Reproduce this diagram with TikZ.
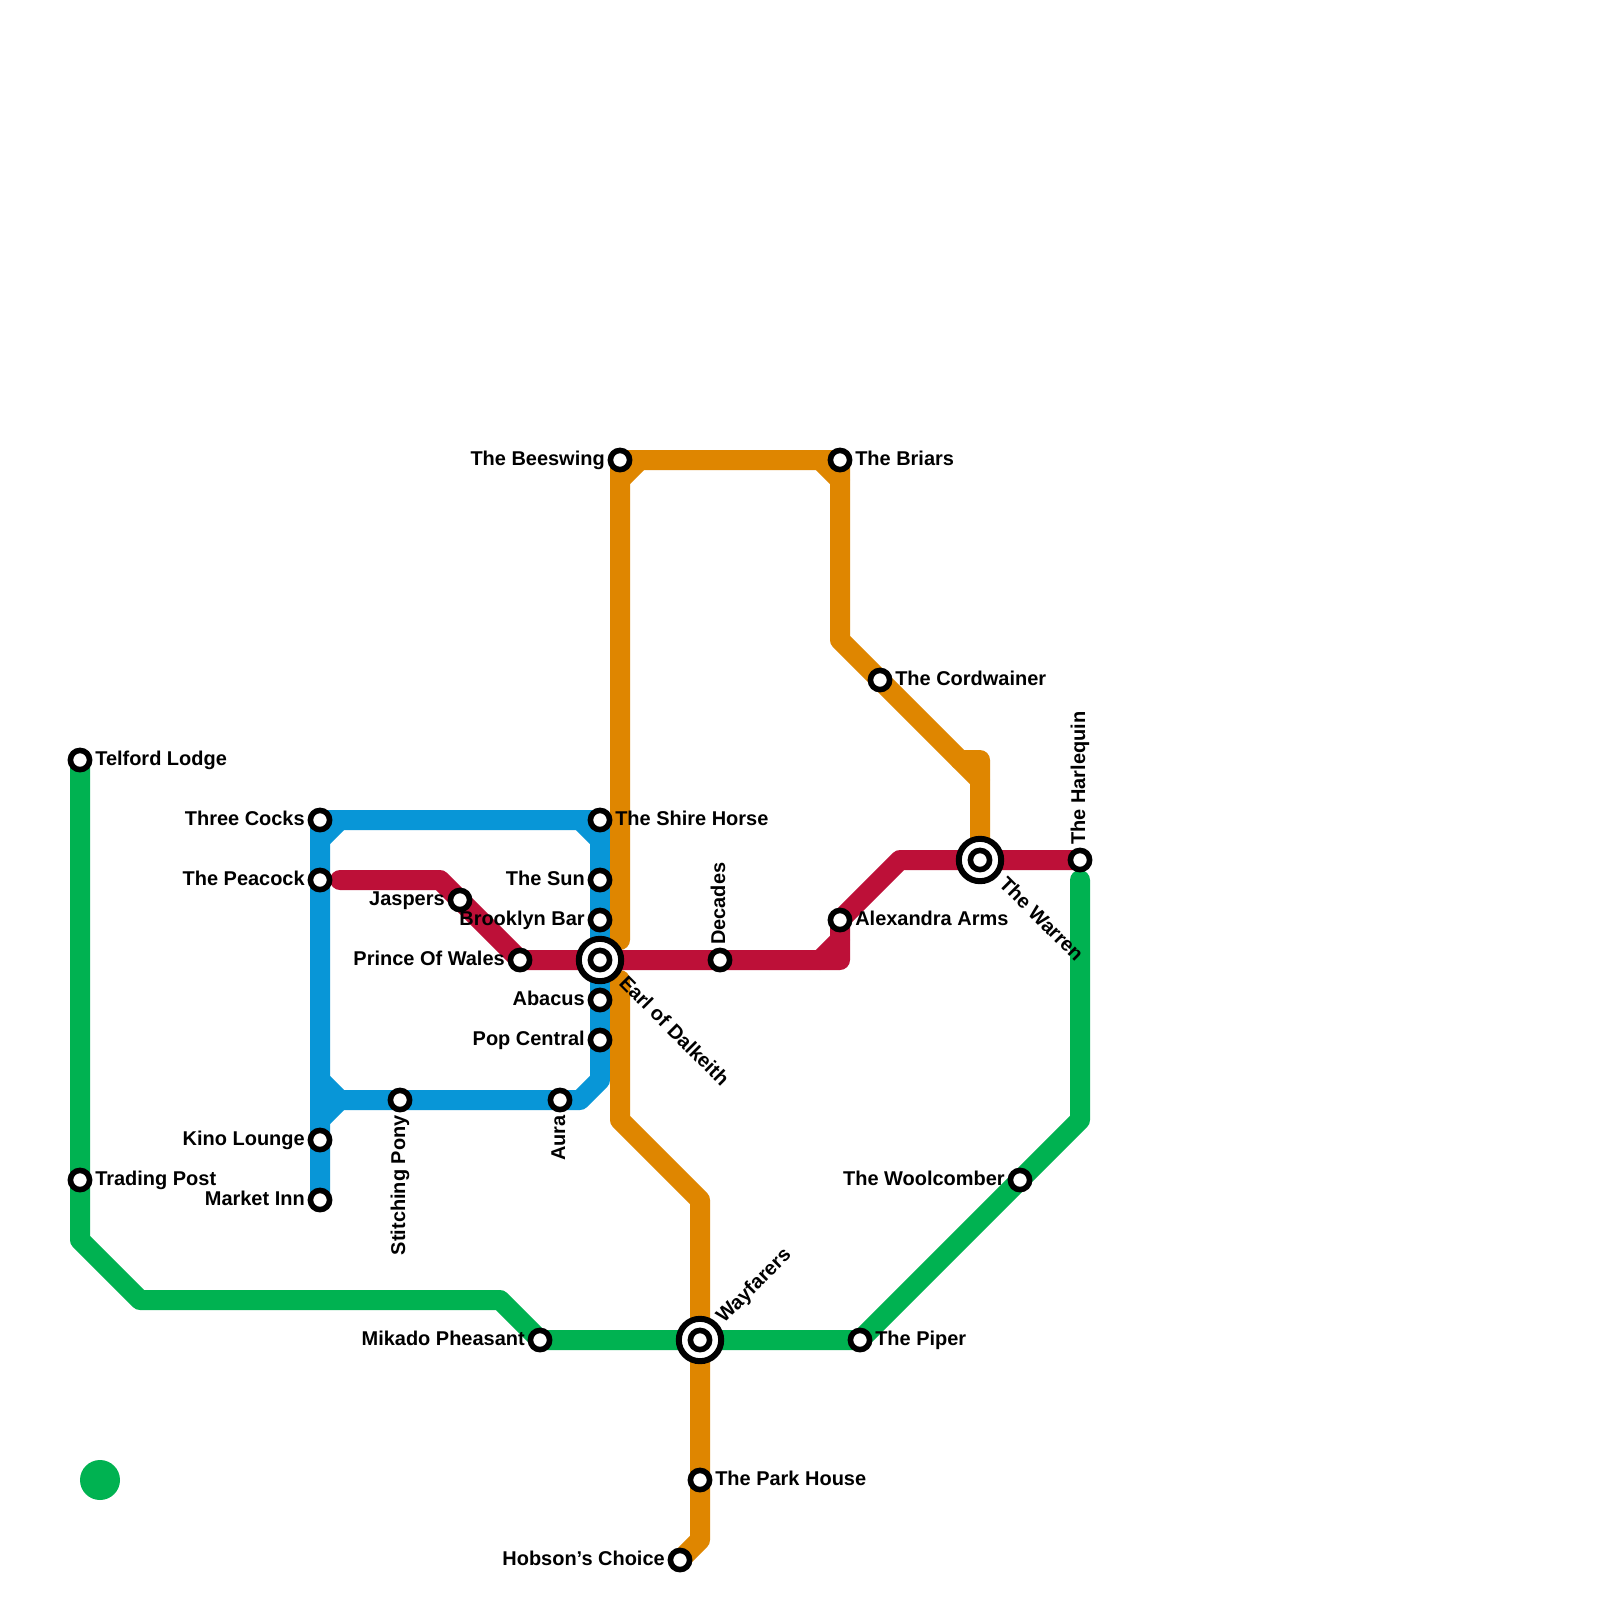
\documentclass[tikz,border=0pt]{standalone}
\usepackage{fontspec}
\setmainfont{Liberation Sans}
\usetikzlibrary{backgrounds}
\definecolor{lineblue}{HTML}{0896D7}
\definecolor{linegreen}{HTML}{00B251}
\definecolor{linered}{HTML}{BD1038}
\definecolor{lineorange}{HTML}{DF8600}
\tikzset{
  stn/.style={circle, draw=black, fill=white, line width=.14cm, minimum size=.48cm, inner sep=0pt, outer sep=0pt},
  ringstn/.style={circle, draw=black, fill=white, line width=.15cm, minimum size=1.06cm, inner sep=0pt, outer sep=0pt},
  lbl/.style={font=\fontsize{14.2pt}{16pt}\selectfont\bfseries, inner sep=0pt, text=black},
  metroline/.style={line width=.5cm, line cap=round, line join=round},
}
\begin{document}
\begin{tikzpicture}[x=.5cm, y=-.5cm]
\useasboundingbox (0,0) rectangle (80,80);

\node[ringstn] (earlring) at (30,48) {};
\node[ringstn] (warrenring) at (49,43) {};
\node[ringstn] (wayfarersring) at (35,67) {};

\node[stn] (telford) at (4,38) {};
\node[stn] (trading) at (4,59) {};
\node[stn] (threecocks) at (16,41) {};
\node[stn] (peacock) at (16,44) {};
\node[stn] (kino) at (16,57) {};
\node[stn] (market) at (16,60) {};
\node[stn] (stitching) at (20,55) {};
\node[stn] (aura) at (28,55) {};
\node[stn] (shire) at (30,41) {};
\node[stn] (sun) at (30,44) {};
\node[stn] (brooklyn) at (30,46) {};
\node[stn] (earl) at (30,48) {};
\node[stn] (abacus) at (30,50) {};
\node[stn] (popcentral) at (30,52) {};
\node[stn] (jaspers) at (23,45) {};
\node[stn] (prince) at (26,48) {};
\node[stn] (decades) at (36,48) {};
\node[stn] (alexandra) at (42,46) {};
\node[stn] (warren) at (49,43) {};
\node[stn] (harlequin) at (54,43) {};
\node[stn] (beeswing) at (31,23) {};
\node[stn] (briars) at (42,23) {};
\node[stn] (cordwainer) at (44,34) {};
\node[stn] (mikado) at (27,67) {};
\node[stn] (wayfarers) at (35,67) {};
\node[stn] (piper) at (43,67) {};
\node[stn] (woolcomber) at (51,59) {};
\node[stn] (parkhouse) at (35,74) {};
\node[stn] (hobson) at (34,78) {};

\node[lbl, anchor=base west] (telfordl) at (4.75,38.25) {Telford Lodge};
\node[lbl, anchor=base west] (tradingl) at (4.75,59.25) {Trading Post};
\node[lbl, anchor=base east] (threecocksl) at (15.25,41.25) {Three Cocks};
\node[lbl, anchor=base east] (peacockl) at (15.25,44.25) {The Peacock};
\node[lbl, anchor=base east] (kinol) at (15.25,57.25) {Kino Lounge};
\node[lbl, anchor=base east] (marketl) at (15.25,60.25) {Market Inn};
\node[lbl, anchor=base east, rotate=90] (stitchingl) at (20.25,55.75) {Stitching Pony};
\node[lbl, anchor=base east, rotate=90] (aural) at (28.25,55.75) {Aura};
\node[lbl, anchor=base west] (shirel) at (30.75,41.25) {The Shire Horse};
\node[lbl, anchor=base east] (sunl) at (29.25,44.25) {The Sun};
\node[lbl, anchor=base east] (brooklynl) at (29.25,46.25) {Brooklyn Bar};
\node[lbl, anchor=base west, rotate=-45] (earll) at (30.9,49.2) {Earl of Dalkeith};
\node[lbl, anchor=base east] (abacusl) at (29.25,50.25) {Abacus};
\node[lbl, anchor=base east] (popcentrall) at (29.25,52.25) {Pop Central};
\node[lbl, anchor=base east] (jaspersl) at (22.25,45.25) {Jaspers};
\node[lbl, anchor=base east] (princel) at (25.25,48.25) {Prince Of Wales};
\node[lbl, anchor=base west, rotate=90] (decadesl) at (36.25,47.25) {Decades};
\node[lbl, anchor=base west] (alexandral) at (42.75,46.25) {Alexandra Arms};
\node[lbl, anchor=base west, rotate=-45] (warrenl) at (49.9,44.25) {The Warren};
\node[lbl, anchor=base west, rotate=90] (harlequinl) at (54.25,42.25) {The Harlequin};
\node[lbl, anchor=base east] (beeswingl) at (30.25,23.25) {The Beeswing};
\node[lbl, anchor=base west] (briarsl) at (42.75,23.25) {The Briars};
\node[lbl, anchor=base west] (cordwainerl) at (44.75,34.25) {The Cordwainer};
\node[lbl, anchor=base east] (mikadol) at (26.25,67.25) {Mikado Pheasant};
\node[lbl, anchor=base west, rotate=45] (wayfarersl) at (36.2,66.2) {Wayfarers};
\node[lbl, anchor=base west] (piperl) at (43.75,67.25) {The Piper};
\node[lbl, anchor=base east] (woolcomberl) at (50.25,59.25) {The Woolcomber};
\node[lbl, anchor=base west] (parkhousel) at (35.75,74.25) {The Park House};
\node[lbl, anchor=base east] (hobsonl) at (33.25,78.25) {Hobson’s Choice};

\coordinate (gbend1) at (4,62);
\coordinate (gbend2) at (7,65);
\coordinate (gbend3) at (25,65);
\coordinate (gbend4) at (54,56);
\coordinate (gend) at (54,44);
\coordinate (rstart) at (17,44);
\coordinate (rbend1) at (22,44);
\coordinate (rbend2) at (42,48);
\coordinate (rbend3) at (45,43);
\coordinate (obend1) at (31,47);
\coordinate (obend2) at (31,49);
\coordinate (obend3) at (31,56);
\coordinate (obend4) at (35,60);
\coordinate (obend5) at (35,77);
\coordinate (obend6) at (42,32);
\coordinate (obend7) at (48,38);
\coordinate (obend8) at (49,38);
\coordinate (bbend1) at (30,54);
\coordinate (bbend2) at (29,55);
\coordinate (bjoin) at (16,55);

\begin{scope}[on background layer]
\fill[white] (0,0) rectangle (80,80);

% blue
\draw[metroline, lineblue] (market.center) -- (threecocks.center) -- (shire.center) -- (bbend1) -- (bbend2) -- (bjoin);
\draw[metroline, lineblue] (17,41) -- (16,42);
\draw[metroline, lineblue] (29,41) -- (30,42);
\draw[metroline, lineblue] (16,54) -- (17,55) -- (16,56);

% orange
\draw[metroline, lineorange] (obend1) -- (beeswing.center) -- (briars.center) -- (obend6) -- (obend7) -- (obend8) -- (warren.center);
\draw[metroline, lineorange] (32,23) -- (31,24);
\draw[metroline, lineorange] (41,23) -- (42,24);
\draw[metroline, lineorange] (obend7) -- (49,39);
\draw[metroline, lineorange] (obend2) -- (obend3) -- (obend4) -- (obend5) -- (hobson.center);

% green
\draw[metroline, linegreen] (telford.center) -- (gbend1) -- (gbend2) -- (gbend3) -- (mikado.center) -- (piper.center) -- (gbend4) -- (gend);
\fill[linegreen] (5,74) circle (1);

% red
\draw[metroline, linered] (rstart) -- (rbend1) -- (prince.center) -- (rbend2) -- (alexandra.center) -- (rbend3) -- (harlequin.center);
\draw[metroline, linered] (41,48) -- (42,47);
\end{scope}
\end{tikzpicture}
\end{document}
